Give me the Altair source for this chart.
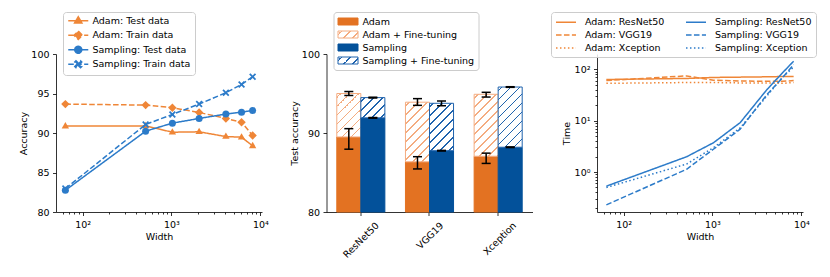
import json
import math
import altair as alt

FONT = "DejaVu Sans"
FS = 9.5
ORANGE = "#EF8637"
BLUE = "#2C7BC9"
BAR_ORANGE = "#E37222"
BAR_BLUE = "#03519A"
HATCH_ORANGE = "#F4AC80"
HATCH_BLUE = "#1F63AD"

# ---------------- data: panel 1 (accuracy vs width) ----------------
widths = [64, 512, 1024, 2048, 4096, 6144, 8192]
adam_test = [90.87, 90.9, 90.1, 90.15, 89.55, 89.47, 88.37]
adam_train = [93.66, 93.53, 93.2, 92.6, 91.84, 91.37, 89.68]
samp_test = [82.75, 90.23, 91.25, 91.84, 92.4, 92.64, 92.85]
samp_train = [82.96, 91.08, 92.35, 93.66, 95.1, 96.15, 97.12]
acc_series = ["Adam: Test data", "Adam: Train data", "Sampling: Test data", "Sampling: Train data"]

# ---------------- data: panel 2 (test accuracy bars) ----------------
models = ["ResNet50", "VGG19", "Xception"]
methods = ["Adam", "Sampling"]
adam_base = [89.5, 86.35, 87.06]
adam_base_lo = [87.95, 85.45, 86.15]
adam_base_hi = [90.55, 87.0, 87.45]
adam_ft = [95.0, 93.9, 94.9]
adam_ft_lo = [94.75, 93.5, 94.55]
adam_ft_hi = [95.25, 94.35, 95.15]
samp_base = [91.92, 87.76, 88.2]
samp_base_lo = [91.88, 87.72, 88.16]
samp_base_hi = [91.96, 87.8, 88.24]
samp_ft = [94.48, 93.76, 95.82]
samp_ft_lo = [94.43, 93.45, 95.78]
samp_ft_hi = [94.53, 94.05, 95.86]
bar_series = ["Adam", "Adam + Fine-tuning", "Sampling", "Sampling + Fine-tuning"]

# ---------------- data: panel 3 (time vs width) ----------------
adam_resnet = [63, 66, 69, 70, 71, 72, 72]
adam_vgg = [60, 74, 61, 59, 58, 58, 60]
adam_xcep = [53, 55, 55, 54, 54, 53, 55]
samp_resnet = [0.53, 1.98, 3.7, 9.1, 40, 85, 143]
samp_vgg = [0.23, 1.13, 2.77, 6.8, 32, 68, 123]
samp_xcep = [0.5, 1.43, 2.97, 7.2, 30, 70, 110]
time_series = ["Adam: ResNet50", "Adam: VGG19", "Adam: Xception",
               "Sampling: ResNet50", "Sampling: VGG19", "Sampling: Xception"]

PW, PH = 206, 158


def log_domain(vals, pad=0.05):
    lo, hi = math.log10(min(vals)), math.log10(max(vals))
    r = hi - lo
    return [10 ** (lo - pad * r), 10 ** (hi + pad * r)]


def log_axis(title, majors, labels, dom):
    minors = [m * 10 ** k for k in range(-2, 5) for m in range(2, 10)
              if dom[0] <= m * 10 ** k <= dom[1]]
    test = " || ".join(f"datum.value == {m}" for m in majors)
    expr = " : ".join(f"datum.value == {m} ? '{l}'" for m, l in zip(majors, labels)) + " : ''"
    return alt.Axis(title=title, values=majors + minors, labelExpr=expr,
                    tickSize={"condition": {"test": test, "value": 3.5}, "value": 2},
                    labelOverlap=False, labelFlush=False, grid=False, titlePadding=3)


def frame_legend(**kw):
    base = dict(title=None, orient="none", padding=4, strokeColor="#cccccc",
                fillColor="rgba(255,255,255,0.85)", cornerRadius=3, rowPadding=0,
                labelFont=FONT, labelFontSize=FS, labelColor="black")
    base.update(kw)
    return alt.Legend(**base)


def hatch(w, h, color, period=9.0, thick=1.7, phase=3.0):
    L = w + h
    x2 = L * w / (w * w + h * h)
    y2 = L * h / (w * w + h * h)
    stops = [{"offset": 0, "color": "white"}]
    s = phase
    while s < L:
        t0 = s / L
        t1 = min((s + thick) / L, 1.0)
        stops += [{"offset": t0, "color": "white"}, {"offset": t0, "color": color},
                  {"offset": t1, "color": color}, {"offset": t1, "color": "white"}]
        s += period
    stops.append({"offset": 1, "color": "white"})
    return {"gradient": "linear", "x1": 0, "y1": 0, "x2": x2, "y2": y2, "stops": stops}


x_dom = log_domain(widths)
x_scale = alt.Scale(type="log", domain=x_dom, nice=False)
x_axis = log_axis("Width", [100, 1000, 10000], ["10²", "10³", "10⁴"], x_dom)
LEG_Y = -42

# ================= panel 1 =================
acc_values = [adam_test, adam_train, samp_test, samp_train]
acc_rows = [{"width": w, "acc": v, "series": s}
            for s, vals in zip(acc_series, acc_values) for w, v in zip(widths, vals)]
base1 = alt.Chart(alt.Data(values=acc_rows))
X1 = alt.X("width:Q", scale=x_scale, axis=x_axis)
Y1 = alt.Y("acc:Q", scale=alt.Scale(domain=[80, 100], nice=False, zero=False),
           axis=alt.Axis(title="Accuracy", values=[80, 85, 90, 95, 100], titlePadding=2))
line_colors = [ORANGE, ORANGE, BLUE, BLUE]
dash_range = [[1, 0], [5.55, 2.4], [1, 0], [5.55, 2.4]]


def pts_to_path(pts, dx=0.0):
    return "M" + "L".join(f"{x + dx:.3f},{y:.3f}" for x, y in pts) + "Z"


tri = [(0, -1.15), (1.05, 0.65), (-1.05, 0.65)]
dia = [(0, -1.2), (1.2, 0), (0, 1.2), (-1.2, 0)]
xm = [(-1, -0.65), (-0.65, -1), (0, -0.35), (0.65, -1), (1, -0.65), (0.35, 0),
      (1, 0.65), (0.65, 1), (0, 0.35), (-0.65, 1), (-1, 0.65), (-0.35, 0)]
marker_paths = [pts_to_path(tri), pts_to_path(dia), "circle", pts_to_path(xm)]
D = 1.86
circ_leg = f"M{D + 1:.2f},0A1,1,0,1,1,{D - 1:.2f},0A1,1,0,1,1,{D + 1:.2f},0Z"
legend_paths = ["M-1,0H4.72" + pts_to_path(tri, D), "M-1,0H4.72" + pts_to_path(dia, D),
                "M-1,0H4.72" + circ_leg, "M-1,0H4.72" + pts_to_path(xm, D)]

layers1 = []
for s, col, dash, mpath in zip(acc_series, line_colors, dash_range, marker_paths):
    sub = base1.transform_filter(alt.datum.series == s)
    layers1.append(sub.mark_line(strokeWidth=1.5, color=col, strokeDash=dash).encode(x=X1, y=Y1))
    layers1.append(sub.mark_point(filled=True, size=49, opacity=1, color=col, shape=mpath).encode(x=X1, y=Y1))

leg1 = frame_legend(legendX=7, legendY=LEG_Y, symbolSize=49, symbolStrokeWidth=1.5, labelOffset=16,
                    rowPadding=0.5)
legend1 = alt.Chart(alt.Data(values=[{"series": s} for s in acc_series])).transform_filter("false").mark_point(
    filled=True, opacity=1, strokeWidth=1.5, size=49).encode(
    fill=alt.Fill("series:N", scale=alt.Scale(domain=acc_series, range=line_colors), legend=leg1),
    stroke=alt.Stroke("series:N", scale=alt.Scale(domain=acc_series, range=line_colors), legend=leg1),
    shape=alt.Shape("series:N", scale=alt.Scale(domain=acc_series, range=legend_paths), legend=leg1),
    strokeDash=alt.StrokeDash("series:N", scale=alt.Scale(domain=acc_series, range=dash_range), legend=leg1))
chart1 = alt.layer(*layers1, legend1).properties(width=PW, height=PH)

# ================= panel 2 =================
PAD_IN, PAD_OUT = 0.3, 0.15
bar_w = PW / (len(models) - PAD_IN + 2 * PAD_OUT) * (1 - PAD_IN) / 2
px_per_unit = PH / 20.0
bar_rows, err_rows = [], []
for i, m in enumerate(models):
    for meth, b, f, col, hcol in [("Adam", adam_base[i], adam_ft[i], BAR_ORANGE, HATCH_ORANGE),
                                  ("Sampling", samp_base[i], samp_ft[i], BAR_BLUE, HATCH_BLUE)]:
        bar_rows.append({"model": m, "method": meth, "kind": "base", "lo": 80, "hi": b, "fill": col})
        bar_rows.append({"model": m, "method": meth, "kind": "ft", "lo": b, "hi": f,
                         "fill": hatch(bar_w, (f - b) * px_per_unit, hcol)})
    for meth, pairs in [("Adam", [(adam_base_lo[i], adam_base_hi[i]), (adam_ft_lo[i], adam_ft_hi[i])]),
                        ("Sampling", [(samp_base_lo[i], samp_base_hi[i]), (samp_ft_lo[i], samp_ft_hi[i])])]:
        for lo, hi in pairs:
            err_rows.append({"model": m, "method": meth, "elo": lo, "ehi": hi})

X2 = alt.X("model:N", sort=models, scale=alt.Scale(paddingInner=PAD_IN, paddingOuter=PAD_OUT),
           axis=alt.Axis(title=None, labelAngle=-45, labelAlign="right", labelBaseline="middle",
                         labelPadding=8,
                         labelOffset={"condition": {"test": "datum.value == 'VGG19'", "value": 12.5},
                                      "value": 16.5}))
XO2 = alt.XOffset("method:N", sort=methods, scale=alt.Scale(paddingInner=0, paddingOuter=0))
yscale2 = alt.Scale(domain=[80, 100], nice=False, zero=False)
Y2 = alt.Y("lo:Q", scale=yscale2,
           axis=alt.Axis(title="Test accuracy", values=[80, 85, 90, 95, 100], titlePadding=2))
barbase = alt.Chart(alt.Data(values=bar_rows))
layers2 = []
for meth, col, hcol in [("Adam", BAR_ORANGE, HATCH_ORANGE), ("Sampling", BAR_BLUE, HATCH_BLUE)]:
    layers2.append(barbase.transform_filter((alt.datum.method == meth) & (alt.datum.kind == "base"))
                   .mark_bar(opacity=1, strokeWidth=1, stroke=col)
                   .encode(x=X2, xOffset=XO2, y=Y2, y2="hi:Q",
                           color=alt.Color("fill:N", scale=None, legend=None)))
    layers2.append(barbase.transform_filter((alt.datum.method == meth) & (alt.datum.kind == "ft"))
                   .mark_bar(opacity=1, strokeWidth=1, stroke=hcol)
                   .encode(x=X2, xOffset=XO2, y=Y2, y2="hi:Q",
                           color=alt.Color("fill:N", scale=None, legend=None)))
errbase = alt.Chart(alt.Data(values=err_rows))
rules = errbase.mark_rule(strokeWidth=1.5, color="black", opacity=1).encode(
    x=X2, xOffset=XO2, y=alt.Y("elo:Q", scale=yscale2), y2="ehi:Q")
cap_lo = errbase.mark_tick(thickness=1.5, size=9, color="black", opacity=1).encode(
    x=X2, xOffset=XO2, y=alt.Y("elo:Q", scale=yscale2))
cap_hi = errbase.mark_tick(thickness=1.5, size=9, color="black", opacity=1).encode(
    x=X2, xOffset=XO2, y=alt.Y("ehi:Q", scale=yscale2))

LW, LH = 20.0, 7.0
leg_fill = [BAR_ORANGE, {"expr": json.dumps(hatch(LW, LH, HATCH_ORANGE))},
            BAR_BLUE, {"expr": json.dumps(hatch(LW, LH, HATCH_BLUE))}]
leg_edge = [BAR_ORANGE, HATCH_ORANGE, BAR_BLUE, HATCH_BLUE]
rect_path = "M-1,-0.7H3V0.7H-1Z"
leg2 = frame_legend(legendX=7, legendY=LEG_Y, symbolSize=100, symbolStrokeWidth=1, labelOffset=14,
                    rowPadding=2)
legend2 = alt.Chart(alt.Data(values=[{"series": s} for s in bar_series])).transform_filter("false").mark_point(
    filled=True, opacity=1, strokeWidth=1, size=100).encode(
    fill=alt.Fill("series:N", scale=alt.Scale(domain=bar_series, range=leg_fill), legend=leg2),
    stroke=alt.Stroke("series:N", scale=alt.Scale(domain=bar_series, range=leg_edge), legend=leg2),
    shape=alt.Shape("series:N", scale=alt.Scale(domain=bar_series, range=[rect_path] * 4), legend=leg2))
chart2 = alt.layer(*layers2, rules, cap_lo, cap_hi, legend2).properties(width=PW, height=PH)

# ================= panel 3 =================
time_values = {"Adam: ResNet50": adam_resnet, "Adam: VGG19": adam_vgg, "Adam: Xception": adam_xcep,
               "Sampling: ResNet50": samp_resnet, "Sampling: VGG19": samp_vgg,
               "Sampling: Xception": samp_xcep}
time_rows = [{"width": w, "time": v, "series": s, "o": k}
             for k, s in enumerate(time_series) for w, v in zip(widths, time_values[s])]
all_t = [v for s in time_series for v in time_values[s]]
y3_dom = log_domain(all_t)
t_colors = [ORANGE if s.startswith("Adam") else BLUE for s in time_series]
dash_map = {"ResNet50": [1, 0], "VGG19": [5.55, 2.4], "Xception": [1.5, 2.475]}
t_dash = [dash_map[s.split(": ")[1]] for s in time_series]
leg3 = frame_legend(legendX=-46, legendY=LEG_Y, columns=2, columnPadding=18, symbolType="M-1,0H3",
                    symbolSize=100, symbolStrokeWidth=1.5, labelOffset=18, rowPadding=2)
chart3 = alt.Chart(alt.Data(values=time_rows)).mark_line(strokeWidth=1.5).encode(
    x=alt.X("width:Q", scale=x_scale, axis=x_axis),
    y=alt.Y("time:Q", scale=alt.Scale(type="log", domain=y3_dom, nice=False),
            axis=log_axis("Time", [1, 10, 100], ["10⁰", "10¹", "10²"], y3_dom)),
    color=alt.Color("series:N", scale=alt.Scale(domain=time_series, range=t_colors), legend=leg3),
    strokeDash=alt.StrokeDash("series:N", scale=alt.Scale(domain=time_series, range=t_dash), legend=leg3),
    order=alt.Order("o:Q"),
).properties(width=PW, height=PH)

chart = alt.hconcat(chart1, chart2, chart3, spacing=64.5, bounds="flush").resolve_scale(
    color="independent", strokeDash="independent", shape="independent",
    fill="independent", stroke="independent"
).properties(
    padding={"left": 10, "top": 3, "right": 5, "bottom": 5}
).configure_view(stroke=None).configure_axis(
    labelFont=FONT, titleFont=FONT, labelFontSize=FS, titleFontSize=FS, titleFontWeight="normal",
    labelColor="black", titleColor="black", domainColor="black", tickColor="black",
    domainWidth=0.8, tickWidth=0.8, tickSize=3.5, labelPadding=3.5, grid=False,
).configure_legend(labelFont=FONT, labelFontSize=FS)

chart.save("out.html", embed_options={"renderer": "svg", "actions": False})
